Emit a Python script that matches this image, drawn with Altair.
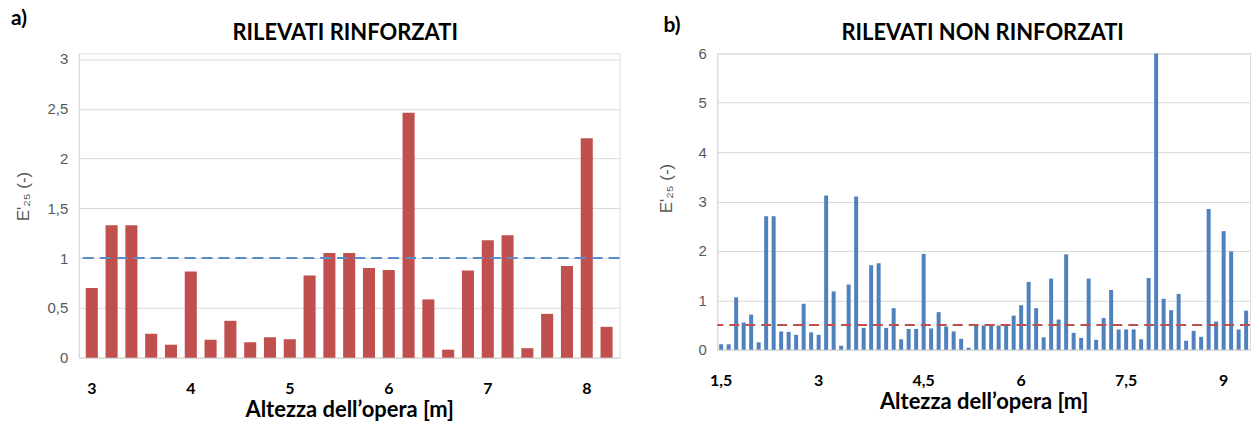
import altair as alt
import pandas as pd

# ---------------- data ----------------
left_h = [3.0, 3.2, 3.4, 3.6, 3.8, 4.0, 4.2, 4.4, 4.6, 4.8, 5.0, 5.2, 5.4, 5.6,
          5.8, 6.0, 6.2, 6.4, 6.6, 6.8, 7.0, 7.2, 7.4, 7.6, 7.8, 8.0, 8.2]
left_e = [0.70, 1.33, 1.33, 0.24, 0.13, 0.865, 0.18, 0.37, 0.155, 0.205, 0.185,
          0.825, 1.05, 1.05, 0.90, 0.88, 2.46, 0.585, 0.08, 0.875, 1.18, 1.23,
          0.095, 0.44, 0.92, 2.205, 0.31]
left_ticks = [3, 4, 5, 6, 7, 8]
left_threshold = [1.0]

right_e = [0.11, 0.11, 1.06, 0.55, 0.71, 0.15, 2.70, 2.70, 0.37, 0.36,
           0.30, 0.93, 0.35, 0.30, 3.12, 1.18, 0.08, 1.32, 3.10, 0.44,
           1.71, 1.75, 0.44, 0.84, 0.21, 0.42, 0.42, 1.94, 0.43, 0.76,
           0.47, 0.37, 0.22, 0.04, 0.49, 0.49, 0.49, 0.49, 0.49, 0.69,
           0.90, 1.37, 0.84, 0.25, 1.44, 0.61, 1.93, 0.34, 0.24, 1.44,
           0.20, 0.64, 1.21, 0.41, 0.41, 0.41, 0.21, 1.45, 6.00, 1.03,
           0.80, 1.13, 0.18, 0.38, 0.26, 2.85, 0.57, 2.40, 1.99, 0.41, 0.79]
right_idx = list(range(1, len(right_e) + 1))
right_tick_idx = [1, 14, 28, 41, 55, 68]
right_tick_lbl = ["1,5", "3", "4,5", "6", "7,5", "9"]
right_threshold = [0.5]

df_left = pd.DataFrame({"h": left_h, "e": left_e})
df_right = pd.DataFrame({"i": right_idx, "e": right_e})

# ---------------- styling ----------------
GRID = "#d9d9d9"
LABEL_GRAY = "#595959"
RED = "#c0504d"
BLUE = "#4f81bd"
YTITLE = "E'\u2082\u2085 (-)"
XTITLE = "Altezza dell\u2019opera [m]"

LW, LH = 542, 305       # left plot
RW, RH = 534, 297       # right plot
left_top = 3 * LH / 299.4  # left panel top sits a bit above 3

num_expr = "replace(datum.label, '.', ',')"


def x_axis(values, label_expr=None):
    kw = dict(values=values, title=XTITLE, labelAngle=0, labelFont="Lato",
              labelFontWeight="bold", labelFontSize=16, labelColor="#000000",
              labelPadding=23, ticks=False, domainColor=GRID,
              titleFont="Lato", titleFontWeight="bold", titleFontSize=22,
              titleColor="#000000", titlePadding=3, grid=False)
    if label_expr:
        kw["labelExpr"] = label_expr
    return alt.Axis(**kw)


def y_axis(values, title_pad, title_y):
    return alt.Axis(values=values, format=".2~f", labelExpr=num_expr,
                    title=YTITLE, labelFont="Liberation Sans", labelFontSize=15,
                    labelColor=LABEL_GRAY, labelPadding=11, ticks=False,
                    domainColor=GRID, gridColor=GRID, gridWidth=1,
                    titleFont="Liberation Sans", titleFontSize=17,
                    titleFontWeight="normal", titleColor=LABEL_GRAY,
                    titlePadding=title_pad, titleY=title_y)


def text_layer(txt, size, **kw):
    return alt.Chart(pd.DataFrame({"t": [txt]})).mark_text(
        baseline="middle", font="Lato", fontSize=size, fontWeight="bold",
        color="#000000", **kw).encode(text="t:N")


# ---------------- left panel ----------------
ly = alt.Y("e:Q", scale=alt.Scale(domain=[0, left_top], nice=False),
           axis=y_axis([0, 0.5, 1, 1.5, 2, 2.5, 3], 15, 143))
left_bars = alt.Chart(df_left).mark_bar(color=RED).encode(
    x=alt.X("h:O", sort=None,
            scale=alt.Scale(paddingInner=0.39, paddingOuter=0.35),
            axis=x_axis(left_ticks)),
    y=ly,
)
left_rule = alt.Chart(pd.DataFrame({"e": left_threshold})).mark_rule(
    color="#5b8cc8", strokeDash=[11, 6], strokeWidth=2).encode(y=ly)
left_tag = text_layer("a)", 21, align="left", x=-68, y=-34)
left_title = text_layer("RILEVATI RINFORZATI", 22, align="center",
                        x=LW / 2 - 4, y=-20)
left = alt.layer(left_bars, left_rule, left_tag, left_title).properties(
    width=LW, height=LH)

# ---------------- right panel ----------------
lbl_expr = "".join(f"datum.value == {i} ? '{l}' : "
                   for i, l in zip(right_tick_idx, right_tick_lbl)) + "''"
ry = alt.Y("e:Q", scale=alt.Scale(domain=[0, 6], nice=False),
           axis=y_axis([0, 1, 2, 3, 4, 5, 6], 23, 135))
right_bars = alt.Chart(df_right).mark_bar(color=BLUE).encode(
    x=alt.X("i:O", sort=None,
            scale=alt.Scale(paddingInner=0.47, paddingOuter=0.25),
            axis=x_axis(right_tick_idx, lbl_expr)),
    y=ry,
)
right_rule = alt.Chart(pd.DataFrame({"e": right_threshold})).mark_rule(
    color=RED, strokeDash=[10, 6], strokeWidth=2).encode(y=ry)
right_tag = text_layer("b)", 21, align="left", x=-54, y=-27)
right_title = text_layer("RILEVATI NON RINFORZATI", 22, align="center",
                         x=RW / 2 - 1, y=-20)
right = alt.layer(right_bars, right_rule, right_tag, right_title).properties(
    width=RW, height=RH)

chart = alt.hconcat(left, right, spacing=98, bounds="flush").properties(
    padding={"left": 2, "top": -1, "right": 0, "bottom": 0}
).configure_view(stroke=None).configure(background="#ffffff")

chart.save("out.html", embed_options={"renderer": "svg", "actions": False})
